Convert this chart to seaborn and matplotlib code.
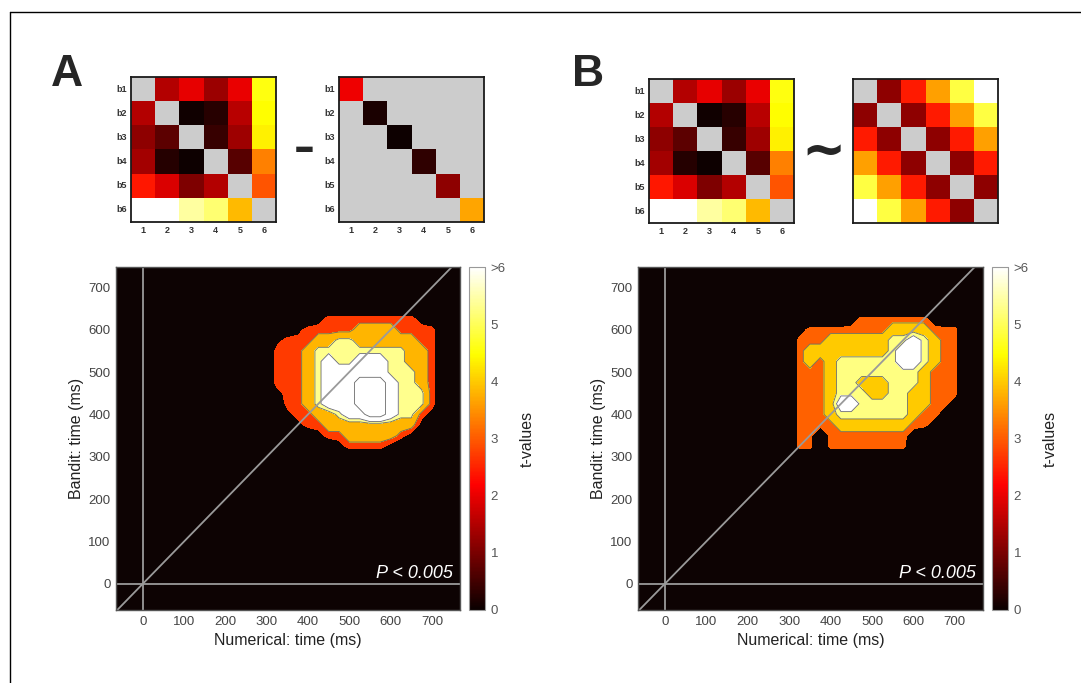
import numpy as np
import matplotlib
matplotlib.use("Agg")
import matplotlib.pyplot as plt
import seaborn as sns
from matplotlib.colors import Normalize
from matplotlib.cm import ScalarMappable
from matplotlib.lines import Line2D

sns.set_theme(style="white")
plt.rcParams['font.family'] = ['Liberation Sans', 'DejaVu Sans']

# ---------------- data ----------------
row_labels = ["b1", "b2", "b3", "b4", "b5", "b6"]
col_labels = ["1", "2", "3", "4", "5", "6"]
nan = np.nan
# bandit dissimilarity matrix (colour scale 0..1, diagonal empty)
bandit_rdm = [
    [nan,   0.252, 0.332, 0.218, 0.333, 0.760],
    [0.252, nan,   0.011, 0.045, 0.260, 0.746],
    [0.198, 0.122, nan,   0.068, 0.220, 0.723],
    [0.229, 0.040, 0.007, nan,   0.115, 0.556],
    [0.401, 0.309, 0.175, 0.252, nan,   0.491],
    [1.000, 1.000, 0.905, 0.858, 0.643, nan],
]
# numerical matrix: only the diagonal is filled
numerical_diag = [0.340, 0.026, 0.007, 0.057, 0.198, 0.612]
# model matrix: value by distance between blocks (1..5)
model_by_distance = [0.198, 0.403, 0.604, 0.810, 1.000]

# t-value maps (ms grid), rows from 675 ms down to 275 ms, columns 300..750 ms
time_x = np.arange(300, 751, 25)
time_y = np.arange(675, 274, -25)
tmap_A = [
    [.8]*19,
    [.8]*19,
    [.8,.8,.8,.8,.8,2.0,3.3,3.3,3.3,3.3,3.3,3.3,3.3,3.3,3.3,2.0,.8,.8,.8],
    [.8,.8,.8,2.0,3.3,3.3,3.3,3.3,3.3,4.6,4.6,4.6,4.6,3.3,3.3,3.3,3.3,.8,.8],
    [.8,2.0,3.3,3.3,3.3,4.6,4.6,5.65,5.65,4.6,4.6,4.6,4.6,4.6,4.6,3.3,3.3,.8,.8],
    [.8,3.3,3.3,3.3,4.6,5.65,5.65,5.65,5.65,5.65,5.65,5.65,5.65,5.65,4.6,4.6,3.3,.8,.8],
    [.8,3.3,3.3,3.3,4.6,5.65,7.0,5.65,5.65,7.0,7.0,7.0,5.65,5.65,4.6,4.6,3.3,.8,.8],
    [.8,3.3,3.3,3.3,4.6,5.65,7.0,7.0,7.0,7.0,7.0,7.0,5.65,5.65,5.65,4.6,3.3,.8,.8],
    [.8,3.3,3.3,3.3,4.6,5.65,7.0,7.0,7.0,9.0,9.0,9.0,7.0,5.65,5.65,4.6,3.3,.8,.8],
    [.8,2.0,3.3,3.3,4.6,5.65,7.0,7.0,7.0,9.0,9.0,9.0,7.0,5.65,5.65,5.65,3.3,.8,.8],
    [.8,.8,3.3,3.3,4.6,5.65,7.0,7.0,7.0,9.0,9.0,9.0,7.0,5.65,5.65,5.65,3.3,.8,.8],
    [.8,.8,2.0,3.3,3.3,4.6,4.6,5.65,7.0,7.0,9.0,9.0,7.0,5.65,5.65,3.3,2.0,.8,.8],
    [.8,.8,.8,2.0,3.3,3.3,4.6,4.6,4.6,4.6,4.6,4.6,4.6,4.6,4.6,2.0,.8,.8,.8],
    [.8,.8,.8,.8,.8,2.0,3.3,3.3,4.6,4.6,4.6,4.6,4.6,3.3,2.0,.8,.8,.8,.8],
    [.8,.8,.8,.8,.8,.8,.8,2.0,3.3,3.3,3.3,3.3,2.0,.8,.8,.8,.8,.8,.8],
    [.8]*19,
    [.8]*19,
]
tmap_B = [
    [.8]*19,
    [.8]*19,
    [.8,.8,.8,.8,.8,.8,2.0,3.6,3.6,3.6,3.6,3.6,3.6,3.6,2.0,.8,.8,.8,.8],
    [.8,2.0,3.6,3.6,3.6,3.6,3.6,3.6,3.6,3.6,4.7,4.7,4.7,4.7,3.6,3.6,3.6,.8,.8],
    [.8,3.6,3.6,3.6,4.7,4.7,4.7,4.7,4.7,4.7,5.65,5.65,7.0,5.65,4.7,3.6,3.6,.8,.8],
    [.8,3.6,4.7,4.7,4.7,4.7,4.7,4.7,4.7,4.7,5.65,7.0,7.0,5.65,4.7,3.6,3.6,.8,.8],
    [.8,3.6,4.7,3.6,4.7,5.65,5.65,5.65,5.65,5.65,5.65,7.0,7.0,5.65,4.7,3.6,3.6,.8,.8],
    [.8,3.6,3.6,3.6,4.7,5.65,5.65,5.65,5.65,5.65,5.65,5.65,5.65,4.7,3.6,3.6,3.6,.8,.8],
    [.8,3.6,3.6,3.6,4.7,5.65,5.65,4.7,4.7,4.7,5.65,5.65,5.65,4.7,3.6,3.6,3.6,.8,.8],
    [.8,3.6,3.6,3.6,4.7,5.65,5.65,5.65,4.7,4.7,5.65,5.65,4.7,4.7,3.6,3.6,3.6,.8,.8],
    [.8,3.6,3.6,3.6,4.7,7.0,7.0,5.65,5.65,5.65,5.65,5.65,4.7,4.7,3.6,3.6,2.0,.8,.8],
    [.8,3.6,3.6,3.6,4.7,5.65,5.65,5.65,5.65,5.65,5.65,5.65,4.7,3.6,3.6,2.0,.8,.8,.8],
    [.8,3.6,3.6,3.6,3.6,4.7,4.7,4.7,4.7,4.7,4.7,4.7,3.6,3.6,2.0,.8,.8,.8,.8],
    [.8,3.6,3.6,.8,3.6,3.6,3.6,3.6,3.6,3.6,3.6,3.6,2.0,.8,.8,.8,.8,.8,.8],
    [.8,3.6,3.6,.8,3.6,3.6,3.6,3.6,3.6,3.6,3.6,3.6,.8,.8,.8,.8,.8,.8,.8],
    [.8]*19,
    [.8]*19,
]
levels_A = [2.7, 3.8, 5.3, 6.0, 8.0]
levels_B = [3.05, 4.0, 5.24, 6.0]
time_ticks = [0, 100, 200, 300, 400, 500, 600, 700]
cbar_ticks = [0, 1, 2, 3, 4, 5, 6]
cbar_labels = ["0", "1", "2", "3", "4", "5", ">6"]
p_text = "P < 0.005"
xlabel = "Numerical: time (ms)"
ylabel = "Bandit: time (ms)"

# ---------------- figure ----------------
W, H = 1081, 683
fig = plt.figure(figsize=(W / 100, H / 100), dpi=100)
fig.patch.set_facecolor("white")

def fax(x0, y0, x1, y1):
    return fig.add_axes([x0 / W, 1 - y1 / H, (x1 - x0) / W, (y1 - y0) / H])

hot = plt.get_cmap("hot")

def draw_matrix(ax, data, labels=True):
    ax.set_facecolor("#cccccc")
    sns.heatmap(np.array(data, dtype=float), ax=ax, cmap="hot", vmin=0, vmax=1,
                cbar=False, linewidths=0,
                xticklabels=col_labels if labels else False,
                yticklabels=row_labels if labels else False)
    for s in ax.spines.values():
        s.set_visible(True)
        s.set_color("#1a1a1a")
        s.set_linewidth(1.3)
    ax.tick_params(length=0, labelsize=6.5, labelcolor="#333333", pad=3)
    if labels:
        plt.setp(ax.get_yticklabels(), rotation=0, fontweight="bold")
        plt.setp(ax.get_xticklabels(), rotation=0, fontweight="bold")

n = len(numerical_diag)
numerical = np.full((n, n), np.nan)
for i, v in enumerate(numerical_diag):
    numerical[i, i] = v
model = np.full((n, n), np.nan)
for i in range(n):
    for j in range(n):
        if i != j:
            model[i, j] = model_by_distance[abs(i - j) - 1]

draw_matrix(fax(131, 77, 276, 222), bandit_rdm)
draw_matrix(fax(339, 77, 484, 222), numerical)
draw_matrix(fax(649, 79, 794, 223), bandit_rdm)
draw_matrix(fax(853, 79, 998, 223), model, labels=False)

norm = Normalize(0, 6)

def draw_tmap(ax, cax, Z, levels):
    Z = np.array(Z)
    ax.set_facecolor("#0d0303")
    cols = [hot(norm(l)) for l in levels]
    ax.contourf(time_x, time_y, Z, levels=levels + [100], colors=cols)
    ax.contour(time_x, time_y, Z, levels=levels[1:], colors="#6a6a6a", linewidths=0.6)
    ax.axvline(0, color="#9a9a9a", lw=1.3)
    ax.axhline(0, color="#9a9a9a", lw=1.3)
    ax.axline((0, 0), slope=1, color="#9a9a9a", lw=1.3)
    ax.set_xlim(-65, 768)
    ax.set_ylim(-62, 748)
    ax.set_xticks(time_ticks)
    ax.set_yticks(time_ticks)
    ax.tick_params(length=0, labelsize=9.5, labelcolor="#444444", pad=4)
    for s in ax.spines.values():
        s.set_color("#555555")
        s.set_linewidth(1.0)
    ax.set_xlabel(xlabel, fontsize=11.5, color="#222222", labelpad=4)
    ax.set_ylabel(ylabel, fontsize=11.5, color="#222222", labelpad=3)
    ax.text(0.98, 0.093, p_text, transform=ax.transAxes, ha="right", va="baseline",
            color="white", fontsize=13, style="italic")
    cb = fig.colorbar(ScalarMappable(norm=norm, cmap=hot), cax=cax, ticks=cbar_ticks)
    cb.ax.set_yticklabels(cbar_labels)
    cb.outline.set_edgecolor("#999999")
    cb.outline.set_linewidth(0.8)
    cb.ax.tick_params(length=3, width=0.6, direction="in", colors="#555555",
                      labelsize=9.5, pad=4)
    cb.set_label("t-values", fontsize=11.5, color="#222222", labelpad=10)

draw_tmap(fax(116, 267, 460, 610), fax(469, 267, 485, 610), tmap_A, levels_A)
draw_tmap(fax(638, 267, 983, 610), fax(992, 267, 1008, 610), tmap_B, levels_B)

# panel letters and operators
fig.text(67 / W, 1 - 74 / H, "A", fontsize=32, fontweight="bold", ha="center", va="center")
fig.text(588 / W, 1 - 74 / H, "B", fontsize=32, fontweight="bold", ha="center", va="center")
fig.text(304.5 / W, 1 - 149 / H, "\u2013", fontsize=30, fontweight="bold", ha="center", va="center",
         family="DejaVu Sans")
fig.text(823.5 / W, 1 - 152 / H, "~", fontsize=38, fontweight="bold", ha="center", va="center",
         family="DejaVu Sans")

# outer frame (top and left rules)
fig.add_artist(Line2D([10 / W, 1], [1 - 12 / H, 1 - 12 / H], color="black", lw=1.0))
fig.add_artist(Line2D([10 / W, 10 / W], [0, 1 - 12 / H], color="black", lw=1.0))

fig.savefig("out.png", dpi=100, facecolor="white")
